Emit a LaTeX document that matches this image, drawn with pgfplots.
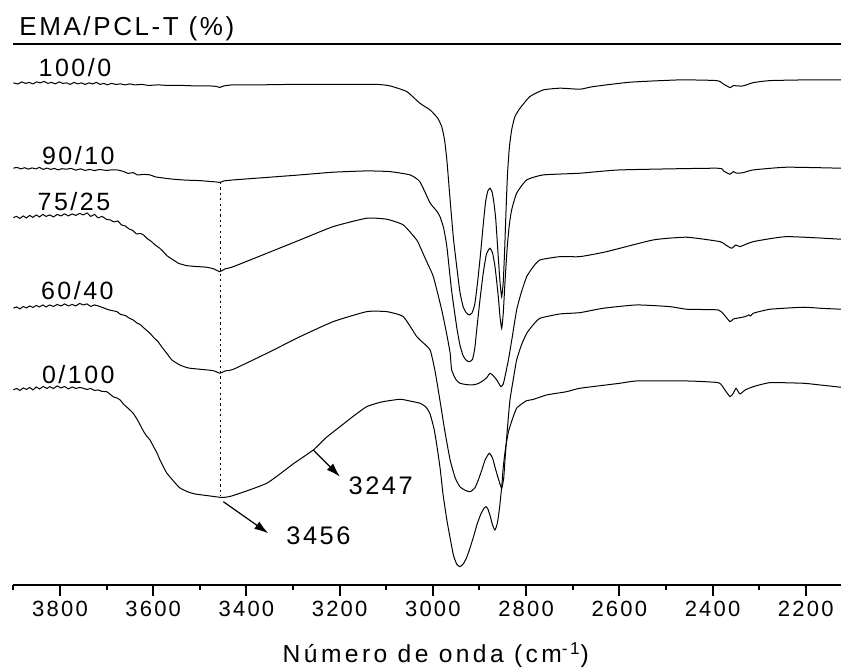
\documentclass[border=0pt]{standalone}
\usepackage{pgfplots}
\pgfplotsset{compat=1.18}
\usepackage{fontspec}
\setmainfont{Liberation Sans}[LetterSpace=10]
\newfontfamily\wide{Liberation Sans}[LetterSpace=14]
\usetikzlibrary{arrows.meta}

\pgfplotsset{spec/.style={black, no markers, line width=0.5pt, smooth, tension=0.3}}

\begin{document}
\begin{tikzpicture}
\path[use as bounding box] (-6.35pt,-42.5pt) rectangle (414.15pt,292.5pt);
\begin{axis}[
    at={(0,0)}, anchor=south west,
    scale only axis, width=414.15pt, height=270.5pt,
    xmin=2124.4, xmax=3901.5, ymin=15, ymax=556,
    x dir=reverse,
    axis x line*=bottom, axis y line=none,
    axis line style={line width=1pt},
    xtick={2200,2400,...,3800},
    minor xtick={2300,2500,...,3900},
    tick align=outside,
    major tick length=5.5pt, minor tick length=2.7pt,
    tick style={line width=1pt, black},
    /pgf/number format/assume math mode=true,
    /pgf/number format/set thousands separator={},
    xticklabel style={font=\fontsize{11}{12}\selectfont, anchor=base, yshift=-10pt},
    clip=false,
]

% 100/0
\addplot[spec] coordinates {
(3900,517) (3890,516) (3882,518) (3874,516.5) (3866,517.5) (3858,516) (3850,518) (3842,517)
(3834,518.5) (3826,516.5) (3818,517.5) (3810,516) (3802,518) (3794,516.5) (3786,517) (3778,515.5)
(3770,517.5) (3762,516) (3754,517) (3746,515.5) (3738,517) (3730,516) (3722,517.5) (3714,515.5)
(3706,516.5) (3698,515) (3690,516.5) (3680,515.5) (3670,516) (3660,515) (3650,516) (3640,515)
(3625,515.5) (3610,514.5) (3590,515) (3570,514.5) (3540,514.5) (3510,514) (3480,514) (3465,513.5)
(3457,512.5) (3448,514) (3430,515) (3380,515) (3300,515.5) (3200,515.5) (3120,515.5) (3092,514)
(3056,508.3) (3028,496.7) (3006,490) (2990,482) (2981,473.3) (2975,460) (2970,440) (2963,400)
(2956,362) (2949,334) (2942,308) (2935,293) (2928,287) (2922,285) (2916,287) (2910,296)
(2904,318) (2898,345) (2892,375) (2887,398) (2882,409) (2877.5,411.7) (2873,408) (2869,397)
(2865,380) (2860,345) (2856,318) (2852.4,303.3) (2849,318) (2846,350) (2843,390) (2840,425)
(2836,452) (2831,470) (2824,483.3) (2813,491.7) (2792,503.3) (2763,510) (2727,511.7) (2684,510.7)
(2656,513.3) (2577,517.7) (2470,520) (2391,519.3) (2377,516) (2362.5,512.3) (2355.5,514.3)
(2348,514) (2334,514) (2312.6,517.3) (2276.7,519.3) (2200,520) (2124.4,520)
};

% 90/10
\addplot[spec] coordinates {
(3900,431.7) (3892,432.5) (3884,431) (3876,432.2) (3868,430.8) (3860,432) (3852,431) (3844,432.5)
(3836,430.5) (3828,431.8) (3820,430.5) (3812,431.5) (3804,430) (3796,431.2) (3786,430.7) (3776,431.5)
(3766,429.8) (3756,431) (3746,429.5) (3736,430.5) (3726,429.3) (3716,430.4) (3700,429.5) (3690,430)
(3678,430) (3664,428.5) (3654,426.5) (3643,427.3) (3634,425) (3620,425.5) (3607,425) (3595,423)
(3580,422) (3557,420.7) (3530,419.8) (3500,419.3) (3480,418.5) (3465,418) (3457,417.5) (3448,419)
(3428,420) (3356,422.5) (3285,425) (3214,427.7) (3142,429) (3092,428.3) (3049,425) (3028,418.3)
(3006,397) (2992,389) (2984.7,383.3) (2977,372) (2970,353.3) (2960,310) (2949,273.3) (2942,255)
(2935,244) (2928,239.5) (2922,238.3) (2915,240.5) (2910,252) (2906,270) (2899,300) (2892,326.7)
(2885,346) (2877.5,351.7) (2872,347) (2866.7,333.3) (2860,305) (2856,283.3) (2852.4,271.7)
(2849,286.7) (2845,320) (2840.4,353.3) (2836,375) (2831,390) (2820.3,406.7) (2798.7,420)
(2763.1,425) (2684.3,426.7) (2598.6,430) (2391.1,431.7) (2377,429) (2362.5,425.7) (2355.5,428.3)
(2348,426.7) (2334,427.3) (2312.6,430) (2241,432.7) (2124.4,431.7)
};

% 75/25
\addplot[spec] coordinates {
(3900,382.3) (3893,383.5) (3886,381.5) (3879,384) (3872,382) (3865,384.5) (3858,382.5) (3851,385)
(3844,383) (3837,385.5) (3830,383.5) (3822,385) (3814,383) (3806,385.5) (3798,384) (3790,386)
(3782,384) (3774,386) (3766,384.5) (3758,386.5) (3750,385) (3742,387) (3734,383.5) (3726,385.5)
(3718,382) (3710,383.5) (3700,380.5) (3692,380) (3684,378) (3676,379) (3668,375) (3660,374)
(3652,371) (3644,369.5) (3636,366) (3628,366.5) (3621,365) (3612,361) (3604,358.5) (3596,355)
(3586,351.7) (3578,348) (3570,344) (3562,341.5) (3557,340) (3545,336.5) (3528,334.3) (3510,333.5)
(3485,332.7) (3470,331) (3457,328.3) (3446,331) (3428,333.3) (3356,346.7) (3285,360) (3214,373.3)
(3142,381.7) (3099,380.7) (3063.5,375) (3034.7,360) (3027.6,353.3) (3013,338) (2999,323.3)
(2981,290) (2970,265) (2963,247) (2959.7,230) (2950,220) (2941.8,216.7) (2930,215.5) (2916.7,215)
(2905,216) (2895.3,218.3) (2885,222) (2877.5,226.7) (2870,224) (2863,220) (2854,213.3) (2849,216)
(2845.3,223.3) (2838,240) (2830,262) (2820.3,290) (2810,308) (2798.7,323.3) (2785,333) (2770.2,340)
(2727.3,343.3) (2684.3,343.3) (2627.1,348.3) (2527.1,360) (2455.5,362.7) (2384,358.3) (2372,355)
(2359,351.7) (2349.7,355) (2341.2,353.3) (2312.6,358.3) (2241,363.3) (2124.4,360.7)
};

% 60/40
\addplot[spec] coordinates {
(3900,291.7) (3893,293) (3886,291) (3879,293.5) (3872,292) (3865,294) (3858,292.5) (3851,294.5)
(3844,293) (3837,295) (3830,293) (3822,295) (3814,293.5) (3806,295.5) (3798,294) (3790,296)
(3782,294) (3774,295.5) (3766,294) (3758,296.5) (3750,295) (3742,296) (3734,293.5) (3726,295)
(3714,293.3) (3706,292) (3698,290.5) (3690,289.5) (3678,288.3) (3670,285.5) (3660,284.5) (3652,282)
(3643,280) (3635,277) (3628,275.5) (3620,272) (3607,266.7) (3598,262) (3590,258.5) (3580,252)
(3571,246.7) (3560,240) (3543,235) (3525,232) (3500,230.7) (3471,229.3) (3457,226.7) (3446,229)
(3428,230.7) (3356,246.7) (3285,263.3) (3214,278.3) (3142,288.3) (3099,288.3) (3063.5,283.3)
(3034.7,263.3) (3027.6,260) (3006,250) (2995,228) (2985,200) (2974,168) (2963,140) (2952,122)
(2942,113.3) (2930,109.5) (2920,108.3) (2910,112) (2902.5,120) (2895,130) (2888,140) (2879,146.7)
(2872,142) (2867,133.3) (2860,122) (2852.4,111.7) (2848,122) (2845.3,140) (2840,172) (2834.6,200)
(2827,222) (2820.3,240) (2810,255) (2798.7,266.7) (2785,275) (2770.2,281.7) (2727.3,286)
(2684.3,287.3) (2634.4,291.7) (2562.7,295) (2491.3,293.3) (2455.5,290.7) (2387.7,290) (2375,285)
(2362.5,278.3) (2355,281) (2348,281.7) (2330,283.3) (2322,285) (2318,284) (2312.6,286.7)
(2276.7,290.7) (2205,292.7) (2169,291.7) (2124.4,290.7)
};

% 0/100
\addplot[spec] coordinates {
(3900,210) (3893,211.5) (3886,209.5) (3879,212) (3872,210.5) (3865,212.5) (3858,210) (3851,213)
(3844,211) (3836,213.5) (3828,211.5) (3822,213.3) (3814,211.5) (3806,214) (3798,212) (3790,213.5)
(3782,211) (3774,213) (3766,211.5) (3758,212.5) (3750,211.7) (3742,210.5) (3734,211.5) (3726,209.5)
(3718,210) (3710,208.5) (3700,208.3) (3692,205.5) (3685,203) (3678,202) (3671,200) (3664,196)
(3657,193) (3650,190) (3643,186.7) (3635,181) (3628,175) (3620,168) (3614,164) (3607,160)
(3600,154) (3592,147) (3585.5,140) (3578,133) (3571,127) (3564,123) (3553,117) (3542.6,112)
(3525,108) (3510,106) (3478,104) (3457,102.7) (3446,102.7) (3428,104.5) (3356.5,116.7) (3300,136)
(3256.5,150) (3230,162) (3199.3,173.3) (3170,184) (3142,193.3) (3110,198) (3070.5,200.7) (3050,199)
(3027.6,196.7) (3015,193) (3006,186) (2997,170) (2990,150) (2984,130) (2978,105) (2970,80)
(2963,62) (2956,45) (2949,36) (2942,33.3) (2935,36) (2928,42) (2921,51) (2913,63) (2905,76)
(2897,86) (2890,92) (2886,93.3) (2882,91) (2877,84) (2872,75) (2867,70) (2862,76) (2857,92)
(2852,115) (2849,133) (2844,152) (2838,168) (2830,180) (2820,192) (2800,199) (2785,200.5)
(2756,205) (2712.9,208.3) (2684.3,211.7) (2598.6,216.7) (2562.7,219) (2455.5,219) (2387.7,217.3)
(2375,211) (2362.5,203.3) (2355.5,206.7) (2349.7,211.7) (2341.2,206) (2330,210) (2312.6,213.3)
(2276.7,217.3) (2205.4,216.7) (2169.4,215) (2124.4,212.7)
};

% top rule
\draw[line width=1pt] (rel axis cs:0,1) -- (rel axis cs:1,1);

% dotted marker at 3456
\draw[line width=0.8pt, dash pattern=on 1.1pt off 1.6pt] (axis cs:3456,418) -- (axis cs:3456,104);

% arrows
\draw[line width=0.6pt, -{Latex[length=7pt,width=4.5pt]}] (axis cs:3256.5,150) -- (axis cs:3199.3,123.3);
\draw[line width=0.6pt, -{Latex[length=7pt,width=4.5pt]}] (axis cs:3449.6,98.3) -- (axis cs:3353.1,66.7);

% texts
\node[anchor=base west, inner sep=0pt, font=\fontsize{13}{15}\selectfont] at (axis cs:3888,564) {EMA/PCL-T (\%)};
\node[anchor=base west, inner sep=0pt, font=\fontsize{12.5}{14}\selectfont] at (axis cs:3846.6,523.3) {100/0};
\node[anchor=base west, inner sep=0pt, font=\fontsize{12.5}{14}\selectfont] at (axis cs:3839.3,435.7) {90/10};
\node[anchor=base west, inner sep=0pt, font=\fontsize{12.5}{14}\selectfont] at (axis cs:3848.7,389.3) {75/25};
\node[anchor=base west, inner sep=0pt, font=\fontsize{12.5}{14}\selectfont] at (axis cs:3841.4,300) {60/40};
\node[anchor=base west, inner sep=0pt, font=\fontsize{12.5}{14}\selectfont] at (axis cs:3839.3,216.7) {0/100};
\node[anchor=base west, inner sep=0pt, font=\fontsize{12.7}{14}\selectfont] at (axis cs:3181.5,105.7) {3247};
\node[anchor=base west, inner sep=0pt, font=\fontsize{12.7}{14}\selectfont] at (axis cs:3315.1,55.7) {3456};
\node[anchor=base, inner sep=0pt, font=\wide\fontsize{12.3}{14}\selectfont] at (axis cs:2993.7,-62.7) {Número de onda (cm\textsuperscript{-1})};

\end{axis}
\end{tikzpicture}
\end{document}
